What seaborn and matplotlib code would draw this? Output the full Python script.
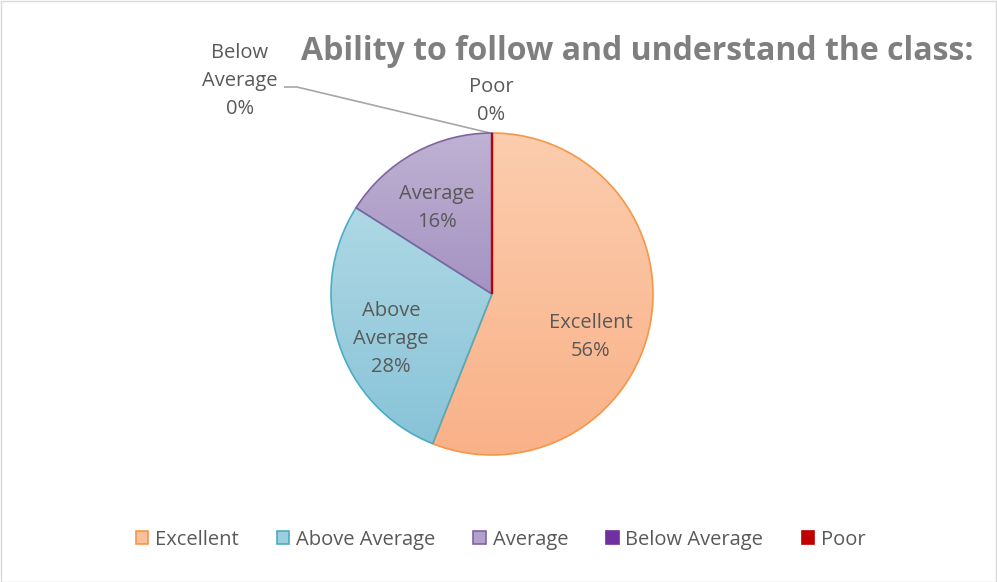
import numpy as np
import matplotlib
matplotlib.use("Agg")
import matplotlib.pyplot as plt
import seaborn as sns
from matplotlib.patches import Patch, Rectangle
from matplotlib.colors import to_rgba

# Survey answers (share of respondents, %)
categories = ["Excellent", "Above Average", "Average", "Below Average", "Poor"]
shares = [56, 28, 16, 0, 0]

# Fill colours: (top, bottom) of the vertical gradient, and the outline colour
fill_top = ["#FCCDAE", "#AED8E4", "#BFB2D3", "#7030A0", "#C00000"]
fill_bottom = ["#F9B188", "#88C3D8", "#A592C2", "#7030A0", "#C00000"]
edge_colors = ["#F79646", "#4BACC6", "#8064A2", "#7030A0", "#C00000"]

sns.set_theme(style="white")
plt.rcParams["font.family"] = ["Open Sans", "DejaVu Sans"]

W, H = 997, 582
fig = plt.figure(figsize=(W / 100, H / 100), dpi=100)
fig.patch.set_facecolor("white")
ax = fig.add_axes([0, 0, 1, 1])

cx, cy, R = 492, H - 294, 161

wedges, _ = ax.pie(
    shares,
    radius=R,
    center=(cx, cy),
    startangle=90,
    counterclock=False,
    frame=True,
    wedgeprops=dict(linewidth=1.2),
)
ax.set_aspect("auto")
ax.axis("off")

for w, top, bot, ec, v in zip(wedges, fill_top, fill_bottom, edge_colors, shares):
    w.set_facecolor("none")
    w.set_edgecolor(ec)
    if v <= 0:
        w.set_linewidth(1.6)
        w.set_zorder(3)
        continue
    ext = w.get_path().get_extents()
    c0 = np.array(to_rgba(bot))
    c1 = np.array(to_rgba(top))
    t = np.linspace(0, 1, 256)[:, None, None]
    grad = c0[None, None, :] * (1 - t) + c1[None, None, :] * t
    im = ax.imshow(grad, extent=[ext.x0, ext.x1, ext.y0, ext.y1],
                   origin="lower", aspect="auto", zorder=0.5,
                   interpolation="bilinear")
    im.set_clip_path(w)
    w.set_zorder(2)

ax.set_xlim(0, W)
ax.set_ylim(0, H)

label_color = "#595959"
lbl_size = 14.5
lbl_spacing = 1.55

def pct(v):
    return f"{v:.0f}%"

# Inside labels (offsets from the pie centre, in pixels)
inside = {
    "Excellent": (99, -43, "Excellent"),
    "Above Average": (-101, -45, "Above\nAverage"),
    "Average": (-55, 86, "Average"),
}
for name, v in zip(categories, shares):
    if name in inside:
        dx, dy, txt = inside[name]
        ax.text(cx + dx, cy + dy, f"{txt}\n{pct(v)}", ha="center", va="center",
                fontsize=lbl_size, color=label_color, linespacing=lbl_spacing,
                zorder=4)

# Outside labels for the empty categories
v_below = shares[categories.index("Below Average")]
v_poor = shares[categories.index("Poor")]
ax.text(240, H - 81, f"Below\nAverage\n{pct(v_below)}", ha="center", va="center",
        fontsize=lbl_size, color=label_color, linespacing=lbl_spacing, zorder=4)
ax.text(491, H - 101, f"Poor\n{pct(v_poor)}", ha="center", va="center",
        fontsize=lbl_size, color=label_color, linespacing=lbl_spacing, zorder=4)
ax.plot([284, 297, cx - 2], [H - 87, H - 87, cy + R], color="#A6A6A6",
        lw=1.2, zorder=1, solid_capstyle="butt")

# Title
ax.text(637, H - 52, "Ability to follow and understand the class:",
        ha="center", va="center", fontsize=23, fontweight="bold",
        color="#7F7F7F", zorder=4)

# Legend
handles = []
for name, top, bot, ec in zip(categories, fill_top, fill_bottom, edge_colors):
    mid = (np.array(to_rgba(top)) + np.array(to_rgba(bot))) / 2
    handles.append(Patch(facecolor=mid, edgecolor=ec, linewidth=1.2, label=name))
fig.legend(handles=handles, loc="center", bbox_to_anchor=(0.502, 1 - 540 / H),
           ncol=5, frameon=False, fontsize=14.5, labelcolor=label_color,
           handlelength=0.62, handleheight=0.62, handletextpad=0.33,
           columnspacing=1.9)

# Chart border
fig.patches.append(Rectangle((0.5 / W, 0.5 / H), 1 - 1.5 / W, 1 - 1.5 / H,
                             transform=fig.transFigure, fill=False,
                             edgecolor="#D9D9D9", linewidth=1.0))

fig.savefig("out.png", dpi=100, facecolor="white")
